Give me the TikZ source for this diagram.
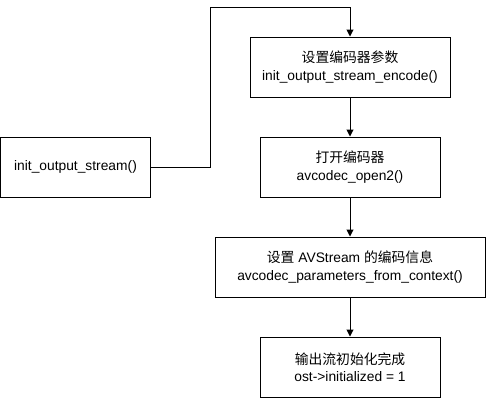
\documentclass[tikz,border=0pt]{standalone}
\usepackage{fontspec}
\setmainfont{Liberation Sans}
\newfontfamily\cjk{Noto Sans CJK SC}
\usetikzlibrary{arrows.meta}
\begin{document}
\begin{tikzpicture}[x=1pt,y=-1pt,
  box/.style={draw=black,line width=1pt,fill=white,inner sep=0pt,align=center,
    font=\fontsize{13.8}{17.5}\selectfont},
  conn/.style={draw=black,line width=1pt,-{Triangle[length=7pt,width=7pt]}}]
\useasboundingbox[fill=white] (0,0) rectangle (486,408);
\node[box,minimum width=200pt,minimum height=60pt] (enc) at (350,67) {{\cjk 设置编码器参数}\\init\_output\_stream\_encode()};
\node[box,minimum width=180pt,minimum height=60pt] (open) at (350,167) {{\cjk 打开编码器}\\avcodec\_open2()};
\node[box,minimum width=150pt,minimum height=60pt] (init) at (75.5,167) {init\_output\_stream()};
\node[box,minimum width=270pt,minimum height=60pt] (par) at (350,267) {{\cjk 设置} AVStream {\cjk 的编码信息}\\avcodec\_parameters\_from\_context()};
\node[box,minimum width=180pt,minimum height=60pt] (done) at (350,367) {{\cjk 输出流初始化完成}\\ost->initialized = 1};
\coordinate (c1) at (210,7);
\draw[conn] (init.east) -| (c1) -| (enc.north);
\draw[conn] (enc) -- (open);
\draw[conn] (open) -- (par);
\draw[conn] (par) -- (done);
\end{tikzpicture}
\end{document}
